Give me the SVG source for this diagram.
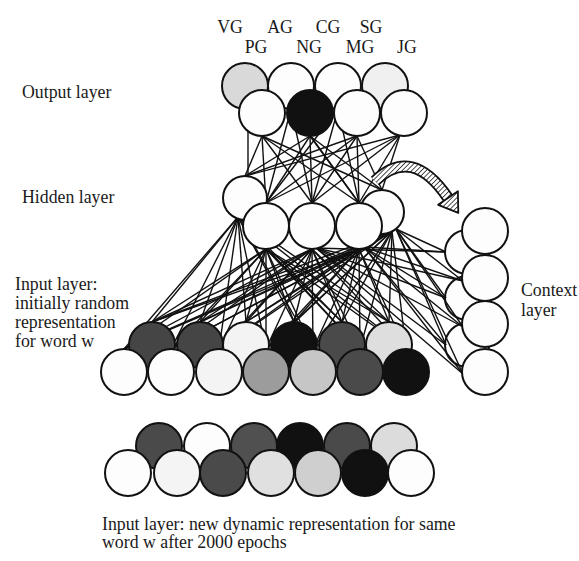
<svg xmlns="http://www.w3.org/2000/svg" width="579" height="561" viewBox="0 0 579 561">
<style>
.n{stroke:#111;stroke-width:2}
.w{fill:#fdfdfd}
.t{font-family:"Liberation Serif","Times New Roman",serif;font-size:17.8px;fill:#1a1a1a}
.c line{stroke:#111;stroke-width:1.4}
</style>
<defs>
<pattern id="hatch" width="3.4" height="3.4" patternUnits="userSpaceOnUse" patternTransform="rotate(45)">
<rect width="3.4" height="3.4" fill="#fff"/>
<line x1="0" y1="0" x2="0" y2="3.4" stroke="#222" stroke-width="1.6"/>
</pattern>
</defs>
<rect width="579" height="561" fill="#fff"/>

<!-- context back column -->
<g id="ctx-b1"><circle class="n w" cx="467" cy="252" r="22"/></g>
<g id="ctx-b2"><circle class="n w" cx="467" cy="298" r="22"/></g>
<g id="ctx-b3"><circle class="n w" cx="467" cy="345" r="22"/></g>

<g id="connectors" class="c">
<!-- output to hidden -->
<line x1="262" y1="136" x2="245" y2="176"/><line x1="262" y1="136" x2="266" y2="203"/><line x1="262" y1="136" x2="312" y2="203"/><line x1="262" y1="136" x2="359" y2="203"/><line x1="262" y1="136" x2="382" y2="190"/>
<line x1="310" y1="136" x2="245" y2="176"/><line x1="310" y1="136" x2="266" y2="203"/><line x1="310" y1="136" x2="312" y2="203"/><line x1="310" y1="136" x2="359" y2="203"/><line x1="310" y1="136" x2="382" y2="190"/>
<line x1="357" y1="136" x2="245" y2="176"/><line x1="357" y1="136" x2="266" y2="203"/><line x1="357" y1="136" x2="312" y2="203"/><line x1="357" y1="136" x2="359" y2="203"/><line x1="357" y1="136" x2="382" y2="190"/>
<line x1="400" y1="135" x2="245" y2="176"/><line x1="400" y1="135" x2="266" y2="203"/><line x1="400" y1="135" x2="312" y2="203"/><line x1="400" y1="135" x2="359" y2="203"/><line x1="400" y1="135" x2="382" y2="190"/>
<line x1="248" y1="108" x2="248" y2="177"/>
<line x1="291" y1="109" x2="266" y2="203"/><line x1="291" y1="109" x2="312" y2="203"/><line x1="291" y1="109" x2="359" y2="203"/>
<line x1="338" y1="109" x2="266" y2="203"/><line x1="338" y1="109" x2="312" y2="203"/><line x1="338" y1="109" x2="359" y2="203"/>
<!-- hidden to input -->
<line x1="238" y1="217" x2="152" y2="322"/><line x1="238" y1="217" x2="200" y2="322"/><line x1="238" y1="217" x2="246" y2="322"/><line x1="238" y1="217" x2="294" y2="322"/><line x1="238" y1="217" x2="342" y2="322"/><line x1="238" y1="217" x2="389" y2="322"/>
<line x1="238" y1="217" x2="124" y2="349"/><line x1="238" y1="217" x2="171" y2="349"/><line x1="238" y1="217" x2="219" y2="349"/><line x1="238" y1="217" x2="266" y2="349"/><line x1="238" y1="217" x2="313" y2="349"/><line x1="238" y1="217" x2="360" y2="349"/><line x1="238" y1="217" x2="406" y2="349"/>
<line x1="266" y1="249" x2="152" y2="322"/><line x1="266" y1="249" x2="200" y2="322"/><line x1="266" y1="249" x2="246" y2="322"/><line x1="266" y1="249" x2="294" y2="322"/><line x1="266" y1="249" x2="342" y2="322"/><line x1="266" y1="249" x2="389" y2="322"/>
<line x1="266" y1="249" x2="124" y2="349"/><line x1="266" y1="249" x2="171" y2="349"/><line x1="266" y1="249" x2="219" y2="349"/><line x1="266" y1="249" x2="266" y2="349"/><line x1="266" y1="249" x2="313" y2="349"/><line x1="266" y1="249" x2="360" y2="349"/><line x1="266" y1="249" x2="406" y2="349"/>
<line x1="312" y1="249" x2="152" y2="322"/><line x1="312" y1="249" x2="200" y2="322"/><line x1="312" y1="249" x2="246" y2="322"/><line x1="312" y1="249" x2="294" y2="322"/><line x1="312" y1="249" x2="342" y2="322"/><line x1="312" y1="249" x2="389" y2="322"/>
<line x1="312" y1="249" x2="124" y2="349"/><line x1="312" y1="249" x2="171" y2="349"/><line x1="312" y1="249" x2="219" y2="349"/><line x1="312" y1="249" x2="266" y2="349"/><line x1="312" y1="249" x2="313" y2="349"/><line x1="312" y1="249" x2="360" y2="349"/><line x1="312" y1="249" x2="406" y2="349"/>
<line x1="359" y1="249" x2="152" y2="322"/><line x1="359" y1="249" x2="200" y2="322"/><line x1="359" y1="249" x2="246" y2="322"/><line x1="359" y1="249" x2="294" y2="322"/><line x1="359" y1="249" x2="342" y2="322"/><line x1="359" y1="249" x2="389" y2="322"/>
<line x1="359" y1="249" x2="124" y2="349"/><line x1="359" y1="249" x2="171" y2="349"/><line x1="359" y1="249" x2="219" y2="349"/><line x1="359" y1="249" x2="266" y2="349"/><line x1="359" y1="249" x2="313" y2="349"/><line x1="359" y1="249" x2="360" y2="349"/><line x1="359" y1="249" x2="406" y2="349"/>
<line x1="392" y1="231" x2="152" y2="322"/><line x1="392" y1="231" x2="200" y2="322"/><line x1="392" y1="231" x2="246" y2="322"/><line x1="392" y1="231" x2="294" y2="322"/><line x1="392" y1="231" x2="342" y2="322"/><line x1="392" y1="231" x2="389" y2="322"/>
<line x1="392" y1="231" x2="124" y2="349"/><line x1="392" y1="231" x2="171" y2="349"/><line x1="392" y1="231" x2="219" y2="349"/><line x1="392" y1="231" x2="266" y2="349"/><line x1="392" y1="231" x2="313" y2="349"/><line x1="392" y1="231" x2="360" y2="349"/><line x1="392" y1="231" x2="406" y2="349"/>
<!-- hidden to context -->
<line x1="316" y1="248" x2="446" y2="252"/><line x1="316" y1="248" x2="463" y2="281"/><line x1="316" y1="248" x2="446" y2="298"/><line x1="316" y1="248" x2="463" y2="327"/><line x1="316" y1="248" x2="446" y2="345"/><line x1="316" y1="248" x2="463" y2="374"/>
<line x1="364" y1="247" x2="446" y2="252"/><line x1="364" y1="247" x2="463" y2="281"/><line x1="364" y1="247" x2="446" y2="298"/><line x1="364" y1="247" x2="463" y2="327"/><line x1="364" y1="247" x2="446" y2="345"/><line x1="364" y1="247" x2="463" y2="374"/>
<line x1="396" y1="229" x2="446" y2="252"/><line x1="396" y1="229" x2="463" y2="281"/><line x1="396" y1="229" x2="446" y2="298"/><line x1="396" y1="229" x2="463" y2="327"/><line x1="396" y1="229" x2="446" y2="345"/><line x1="396" y1="229" x2="463" y2="374"/>
</g>

<!-- output layer -->
<g id="out-VG"><circle class="n" cx="245" cy="86" r="23" fill="#d9d9d9"/></g>
<g id="out-AG"><circle class="n w" cx="291" cy="86" r="23"/></g>
<g id="out-CG"><circle class="n w" cx="338" cy="86" r="23"/></g>
<g id="out-SG"><circle class="n" cx="385" cy="86" r="23" fill="#f0f0f0"/></g>
<g id="out-PG"><circle class="n w" cx="262" cy="113" r="23"/></g>
<g id="out-NG"><circle class="n" cx="310" cy="113" r="23" fill="#111"/></g>
<g id="out-MG"><circle class="n w" cx="357" cy="113" r="23"/></g>
<g id="out-JG"><circle class="n w" cx="404" cy="113" r="23"/></g>

<!-- hidden layer -->
<g id="hid-b1"><circle class="n w" cx="245" cy="198" r="22"/></g>
<g id="hid-b2"><circle class="n w" cx="382" cy="212" r="22"/></g>
<g id="hid-f1"><circle class="n w" cx="266" cy="226" r="23"/></g>
<g id="hid-f2"><circle class="n w" cx="312" cy="226" r="23"/></g>
<g id="hid-f3"><circle class="n w" cx="359" cy="226" r="23"/></g>

<!-- context front column -->
<g id="ctx-f1"><circle class="n w" cx="485" cy="231" r="23"/></g>
<g id="ctx-f2"><circle class="n w" cx="485" cy="278" r="23"/></g>
<g id="ctx-f3"><circle class="n w" cx="485" cy="324" r="23"/></g>
<g id="ctx-f4"><circle class="n w" cx="485" cy="372" r="23"/></g>

<!-- input layer (initial) -->
<g id="in-b1"><circle class="n" cx="152" cy="345" r="23" fill="#454545"/></g>
<g id="in-b2"><circle class="n" cx="200" cy="345" r="23" fill="#454545"/></g>
<g id="in-b3"><circle class="n" cx="246" cy="345" r="23" fill="#f3f3f3"/></g>
<g id="in-b4"><circle class="n" cx="294" cy="345" r="23" fill="#111"/></g>
<g id="in-b5"><circle class="n" cx="342" cy="345" r="23" fill="#4a4a4a"/></g>
<g id="in-b6"><circle class="n" cx="389" cy="345" r="23" fill="#dedede"/></g>
<g id="in-f1"><circle class="n w" cx="124" cy="372" r="23"/></g>
<g id="in-f2"><circle class="n w" cx="171" cy="372" r="23"/></g>
<g id="in-f3"><circle class="n" cx="219" cy="372" r="23" fill="#f4f4f4"/></g>
<g id="in-f4"><circle class="n" cx="266" cy="372" r="23" fill="#9c9c9c"/></g>
<g id="in-f5"><circle class="n" cx="313" cy="372" r="23" fill="#c6c6c6"/></g>
<g id="in-f6"><circle class="n" cx="360" cy="372" r="23" fill="#4a4a4a"/></g>
<g id="in-f7"><circle class="n" cx="406" cy="372" r="23" fill="#111"/></g>

<!-- input layer (after training) -->
<g id="new-b1"><circle class="n" cx="159" cy="446" r="23" fill="#4a4a4a"/></g>
<g id="new-b2"><circle class="n w" cx="207" cy="446" r="23"/></g>
<g id="new-b3"><circle class="n" cx="254" cy="446" r="23" fill="#505050"/></g>
<g id="new-b4"><circle class="n" cx="300" cy="446" r="23" fill="#111"/></g>
<g id="new-b5"><circle class="n" cx="347" cy="446" r="23" fill="#4a4a4a"/></g>
<g id="new-b6"><circle class="n" cx="394" cy="446" r="23" fill="#dcdcdc"/></g>
<g id="new-f1"><circle class="n w" cx="128" cy="473" r="23"/></g>
<g id="new-f2"><circle class="n" cx="177" cy="473" r="23" fill="#f4f4f4"/></g>
<g id="new-f3"><circle class="n" cx="223" cy="473" r="23" fill="#4a4a4a"/></g>
<g id="new-f4"><circle class="n" cx="271" cy="473" r="23" fill="#e0e0e0"/></g>
<g id="new-f5"><circle class="n" cx="318" cy="473" r="23" fill="#cfcfcf"/></g>
<g id="new-f6"><circle class="n" cx="365" cy="473" r="23" fill="#111"/></g>
<g id="new-f7"><circle class="n w" cx="411" cy="473" r="23"/></g>

<!-- copy-back arrow -->
<g id="arrow">
<path d="M375,181 Q412,145 448,198" fill="none" stroke="#111" stroke-width="12"/>
<path d="M375,181 Q412,145 448,198" fill="none" stroke="url(#hatch)" stroke-width="8.4"/>
<polygon points="458.3,212.8 457.9,191.2 438.1,204.8" fill="url(#hatch)" stroke="#111" stroke-width="1.8" stroke-linejoin="round"/>
</g>

<!-- labels -->
<g id="labels" class="t">
<text x="230" y="33" text-anchor="middle">VG</text>
<text x="280" y="33" text-anchor="middle">AG</text>
<text x="328" y="33" text-anchor="middle">CG</text>
<text x="371" y="33" text-anchor="middle">SG</text>
<text x="256" y="53" text-anchor="middle">PG</text>
<text x="309" y="53" text-anchor="middle">NG</text>
<text x="360" y="53" text-anchor="middle">MG</text>
<text x="407" y="53" text-anchor="middle">JG</text>
<text x="22" y="98">Output layer</text>
<text x="22" y="203">Hidden layer</text>
<text x="15" y="290">Input layer:</text>
<text x="15" y="309">initially random</text>
<text x="15" y="328">representation</text>
<text x="15" y="347">for word w</text>
<text x="521" y="296">Context</text>
<text x="521" y="316">layer</text>
<text x="102" y="530">Input layer: new dynamic representation for same</text>
<text x="102" y="548">word w after 2000 epochs</text>
</g>
</svg>
